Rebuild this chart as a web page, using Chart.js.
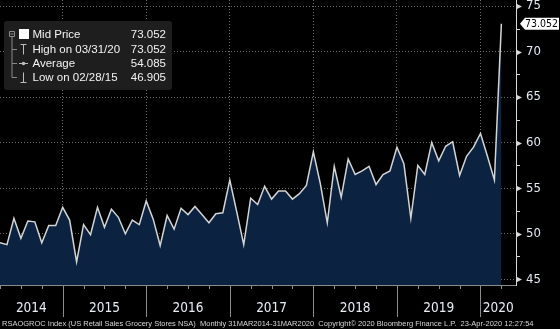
<!DOCTYPE html>
<html>
<head>
<meta charset="utf-8">
<script src="https://cdn.jsdelivr.net/npm/chart.js@4.4.0/dist/chart.umd.min.js"></script>
<style>
  html, body { margin: 0; padding: 0; background: #000; }
  #wrap { position: relative; width: 560px; height: 329px; }
</style>
</head>
<body>
<div id="wrap"><canvas id="groceryChart" width="560" height="329"></canvas></div>
<script>
// month-end observations, Mar 2014 .. Mar 2020
const months = [
  '2014-03','2014-04','2014-05','2014-06','2014-07','2014-08','2014-09','2014-10','2014-11','2014-12',
  '2015-01','2015-02','2015-03','2015-04','2015-05','2015-06','2015-07','2015-08','2015-09','2015-10','2015-11','2015-12',
  '2016-01','2016-02','2016-03','2016-04','2016-05','2016-06','2016-07','2016-08','2016-09','2016-10','2016-11','2016-12',
  '2017-01','2017-02','2017-03','2017-04','2017-05','2017-06','2017-07','2017-08','2017-09','2017-10','2017-11','2017-12',
  '2018-01','2018-02','2018-03','2018-04','2018-05','2018-06','2018-07','2018-08','2018-09','2018-10','2018-11','2018-12',
  '2019-01','2019-02','2019-03','2019-04','2019-05','2019-06','2019-07','2019-08','2019-09','2019-10','2019-11','2019-12',
  '2020-01','2020-02','2020-03'
];

const midPrice = [
  49.0, 48.8, 51.7, 49.5, 51.4, 51.3, 49.0, 50.9, 50.9, 52.9,
  51.5, 46.905, 51.0, 49.9, 52.9, 50.7, 52.7, 51.8, 50.0, 51.5, 51.0, 53.6,
  51.6, 48.7, 52.0, 50.5, 52.8, 52.1, 53.0, 52.1, 51.2, 52.2, 52.3, 55.9,
  52.4, 48.8, 53.9, 53.2, 55.2, 53.8, 54.7, 54.7, 53.8, 54.4, 55.3, 59.0,
  55.5, 51.2, 57.4, 54.0, 58.2, 56.5, 56.9, 57.4, 55.4, 56.5, 56.9, 59.5,
  57.7, 51.7, 57.5, 56.5, 60.0, 58.0, 59.6, 60.1, 56.4, 58.5, 59.5, 61.0,
  58.5, 55.9, 73.052
];

const yearLabels = ['2014', '2015', '2016', '2017', '2018', '2019', '2020'];
const yearBreaks = [9, 21, 33, 45, 57, 69];   // index of each December point
const yTicks = [45, 47.5, 50, 52.5, 55, 57.5, 60, 62.5, 65, 67.5, 70, 72.5, 75];

const legendRows = [
  ['Mid Price', '73.052'],
  ['High on 03/31/20', '73.052'],
  ['Average', '54.085'],
  ['Low on 02/28/15', '46.905']
];
const lastPrice = '73.052';
const footerText = 'RSAOGROC Index (US Retail Sales Grocery Stores NSA)  Monthly 31MAR2014-31MAR2020  Copyright\u00A9 2020 Bloomberg Finance L.P.  23-Apr-2020 12:27:54';

const narrow = '"Liberation Sans Narrow", "DejaVu Sans Condensed", sans-serif';
const xMax = 74.1;

const points = midPrice.map((v, i) => ({ x: i, y: v }));

const extras = {
  id: 'extras',
  afterDraw(chart) {
    const ctx = chart.ctx;
    const xs = chart.scales.x;
    const ys = chart.scales.y;
    const area = chart.chartArea;
    ctx.save();

    // year separators and quarter ticks under the axis
    ctx.strokeStyle = '#8c8c8c';
    ctx.lineWidth = 1;
    for (let i = 0; i < months.length; i += 3) {
      const x = Math.round(xs.getPixelForValue(i)) + 0.5;
      const long = yearBreaks.includes(i);
      ctx.beginPath();
      ctx.moveTo(x, area.bottom);
      ctx.lineTo(x, area.bottom + (long ? 32 : 4));
      ctx.stroke();
    }

    // year labels centred in each year
    const bounds = [0].concat(yearBreaks, [xMax]);
    ctx.fillStyle = '#e8edf5';
    ctx.font = '13.5px ' + narrow;
    ctx.textAlign = 'center';
    ctx.textBaseline = 'middle';
    yearLabels.forEach((lab, k) => {
      const x = (xs.getPixelForValue(bounds[k]) + xs.getPixelForValue(bounds[k + 1])) / 2;
      ctx.fillText(lab, x, area.bottom + 23);
    });

    // right axis tick marks
    ctx.strokeStyle = '#d8d8d8';
    ctx.fillStyle = '#d8d8d8';
    yTicks.forEach(t => {
      const y = Math.round(ys.getPixelForValue(t)) + 0.5;
      if (t % 5 === 0) {
        ctx.beginPath();
        ctx.moveTo(area.right, y - 3);
        ctx.lineTo(area.right + 6, y);
        ctx.lineTo(area.right, y + 3);
        ctx.closePath();
        ctx.fill();
      } else {
        ctx.beginPath();
        ctx.moveTo(area.right, y);
        ctx.lineTo(area.right + 4, y);
        ctx.stroke();
      }
    });

    // last price tag
    const py = ys.getPixelForValue(midPrice[midPrice.length - 1]);
    ctx.fillStyle = '#ffffff';
    ctx.beginPath();
    ctx.moveTo(area.right + 4, py);
    ctx.lineTo(area.right + 9, py - 6);
    ctx.lineTo(559, py - 6);
    ctx.lineTo(559, py + 6);
    ctx.lineTo(area.right + 9, py + 6);
    ctx.closePath();
    ctx.fill();
    ctx.fillStyle = '#000';
    ctx.font = '11px ' + narrow;
    ctx.textAlign = 'left';
    ctx.fillText(lastPrice, area.right + 9, py + 0.5, 33);

    // legend box
    ctx.fillStyle = '#1e1e1e';
    ctx.beginPath();
    ctx.roundRect(4, 21, 168, 69, 3);
    ctx.fill();

    ctx.strokeStyle = '#8a8a8a';
    ctx.beginPath();
    ctx.rect(9.5, 31.5, 5, 5);
    ctx.moveTo(10.5, 34); ctx.lineTo(13.5, 34);
    ctx.moveTo(12, 36.5); ctx.lineTo(12, 77.5);
    [49.5, 63.5, 77.5].forEach(y => { ctx.moveTo(12, y); ctx.lineTo(17, y); });
    ctx.stroke();

    ctx.fillStyle = '#ffffff';
    ctx.fillRect(19, 29, 10, 10);

    ctx.strokeStyle = '#bdbdbd';
    ctx.fillStyle = '#bdbdbd';
    ctx.beginPath();
    ctx.moveTo(20.5, 44.5); ctx.lineTo(26.5, 44.5);
    ctx.moveTo(23.5, 44.5); ctx.lineTo(23.5, 54.5);
    ctx.moveTo(19, 63.5); ctx.lineTo(28, 63.5);
    ctx.moveTo(23.5, 72.5); ctx.lineTo(23.5, 82.5);
    ctx.moveTo(20.5, 82.5); ctx.lineTo(26.5, 82.5);
    ctx.stroke();
    ctx.beginPath();
    ctx.arc(23.5, 63.5, 1.8, 0, Math.PI * 2);
    ctx.fill();

    ctx.fillStyle = '#f2f2f2';
    ctx.font = '11.5px "Liberation Sans", sans-serif';
    const rowY = [34.5, 49.5, 63.5, 78];
    legendRows.forEach((row, k) => {
      ctx.textAlign = 'left';
      ctx.fillText(row[0], 32.5, rowY[k]);
      ctx.textAlign = 'right';
      ctx.fillText(row[1], 166, rowY[k]);
    });

    // footer
    ctx.fillStyle = '#d6d6d6';
    ctx.font = '7.5px "Liberation Sans", sans-serif';
    ctx.textAlign = 'left';
    ctx.fillText(footerText, 2, 324, 556);

    ctx.restore();
  }
};

const ctx = document.getElementById('groceryChart').getContext('2d');
const chart = new Chart(ctx, {
  type: 'line',
  data: {
    datasets: [{
      label: 'Mid Price',
      data: points,
      borderColor: '#d4d4d4',
      borderWidth: 1.5,
      backgroundColor: '#0b2341',
      fill: 'start',
      tension: 0,
      pointRadius: 0
    }]
  },
  options: {
    responsive: false,
    animation: false,
    layout: { padding: 0 },
    plugins: {
      legend: { display: false },
      tooltip: { enabled: false }
    },
    scales: {
      x: {
        type: 'linear',
        min: 0,
        max: xMax,
        z: 1,
        afterBuildTicks: scale => { scale.ticks = yearBreaks.map(v => ({ value: v })); },
        afterFit: scale => { scale.height = 44; scale.paddingLeft = 0; scale.paddingRight = 0; },
        ticks: { display: false },
        grid: { color: '#6e6e6e', drawTicks: false },
        border: { color: '#8c8c8c', dash: [1, 2] }
      },
      y: {
        type: 'linear',
        position: 'right',
        min: 44.37,
        max: 75.66,
        z: 1,
        afterBuildTicks: scale => { scale.ticks = yTicks.map(v => ({ value: v })); },
        afterFit: scale => { scale.width = 44; scale.paddingTop = 0; scale.paddingBottom = 0; },
        ticks: {
          padding: 10,
          color: '#e4e9f2',
          font: { family: narrow, size: 13 },
          callback: v => (v % 5 === 0 ? String(v) : '')
        },
        grid: {
          drawTicks: false,
          color: c => (c.tick && c.tick.value % 5 === 0 ? '#6e6e6e' : 'rgba(0,0,0,0)')
        },
        border: { color: '#d8d8d8', width: 1, dash: [1, 2] }
      }
    }
  },
  plugins: [extras]
});
</script>
</body>
</html>
